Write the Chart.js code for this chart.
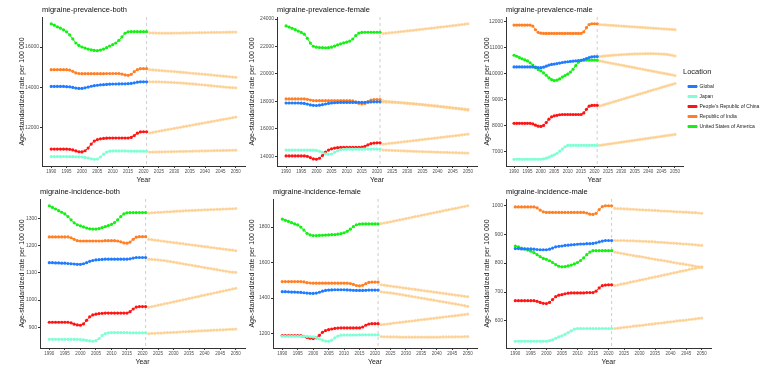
<!DOCTYPE html>
<html>
<head>
<meta charset="utf-8">
<script src="https://cdn.jsdelivr.net/npm/chart.js@4.4.0/dist/chart.umd.min.js"></script>
<style>
  html, body { margin: 0; padding: 0; background: #fff; }
  body { width: 769px; height: 374px; position: relative; overflow: hidden; }
  .panel { position: absolute; }
  .panel canvas { display: block; }
</style>
</head>
<body>
<div class="panel" style="left:0px;top:0px"><canvas id="c1" width="250" height="185"></canvas></div>
<div class="panel" style="left:230px;top:0px"><canvas id="c2" width="250" height="185"></canvas></div>
<div class="panel" style="left:465px;top:0px"><canvas id="c3" width="304" height="185"></canvas></div>
<div class="panel" style="left:0px;top:182px"><canvas id="c4" width="250" height="185"></canvas></div>
<div class="panel" style="left:230px;top:182px"><canvas id="c5" width="250" height="185"></canvas></div>
<div class="panel" style="left:465px;top:182px"><canvas id="c6" width="304" height="185"></canvas></div>
<script>
// years
const histYears = [1990,1991,1992,1993,1994,1995,1996,1997,1998,1999,2000,2001,2002,2003,2004,2005,
  2006,2007,2008,2009,2010,2011,2012,2013,2014,2015,2016,2017,2018,2019,2020,2021];
const projYears = [2022,2023,2024,2025,2026,2027,2028,2029,2030,2031,2032,2033,2034,2035,2036,2037,
  2038,2039,2040,2041,2042,2043,2044,2045,2046,2047,2048,2049,2050];
const xTicks = [1990,1995,2000,2005,2010,2015,2020,2025,2030,2035,2040,2045,2050];
const splitYear = 2021;

const locations = ['Global', 'Japan', "People's Republic of China", 'Republic of India', 'United States of America'];

// ---- migraine-prevalence-both ----
const prevBothGlobal = [14050,14050,14050,14050,14050,14040,14030,14000,13970,13950,13950,13980,14020,14060,14090,14110,
  14130,14140,14150,14160,14170,14170,14175,14180,14180,14185,14200,14230,14260,14280,14280,14280];
const prevBothJapan = [10580,10580,10580,10580,10580,10580,10578,10575,10572,10570,10560,10540,10510,10470,10450,10460,
  10560,10700,10800,10850,10860,10860,10860,10860,10860,10855,10855,10850,10850,10850,10850,10850];
const prevBothChina = [10950,10950,10950,10950,10950,10950,10940,10910,10860,10820,10810,10870,11000,11200,11350,11420,
  11460,11480,11490,11500,11500,11500,11500,11500,11500,11500,11530,11620,11740,11800,11810,11810];
const prevBothIndia = [14880,14880,14880,14880,14880,14880,14860,14800,14720,14690,14680,14680,14680,14680,14680,14680,
  14680,14680,14690,14690,14690,14690,14690,14660,14620,14600,14650,14780,14880,14930,14930,14930];
const prevBothUSA = [17150,17080,17000,16930,16850,16750,16600,16400,16200,16080,16000,15950,15900,15860,15830,15820,
  15850,15900,15970,16050,16120,16200,16330,16500,16680,16750,16760,16760,16760,16760,16760,16760];
const prevBothGlobalProj = [14280,14280,14278,14275,14270,14265,14258,14250,14242,14233,14223,14212,14200,14188,14175,
  14161,14147,14133,14118,14103,14088,14072,14056,14040,14024,14010,14000,13990,13980];
const prevBothJapanProj = [10800,10803,10806,10810,10813,10817,10820,10824,10827,10831,10834,10838,10841,10845,10848,
  10852,10855,10859,10862,10866,10869,10873,10876,10880,10883,10887,10890,10894,10897];
const prevBothChinaProj = [11750,11778,11806,11834,11862,11890,11918,11946,11974,12002,12030,12058,12086,12114,12142,
  12170,12198,12226,12254,12282,12310,12338,12366,12394,12422,12450,12478,12506,12534];
const prevBothIndiaProj = [14880,14868,14856,14844,14832,14820,14808,14796,14784,14772,14758,14744,14730,14716,14702,
  14688,14674,14660,14646,14632,14618,14604,14590,14575,14560,14545,14530,14515,14500];
const prevBothUSAProj = [16700,16695,16690,16688,16686,16685,16685,16686,16688,16690,16692,16695,16698,16700,16703,
  16706,16709,16712,16715,16718,16720,16723,16726,16728,16730,16733,16735,16738,16740];
const prevBothTicks = [12000,14000,16000];

// ---- migraine-prevalence-female ----
const prevFemaleGlobal = [17880,17880,17880,17880,17880,17870,17850,17800,17740,17710,17700,17720,17760,17810,17850,17880,
  17900,17910,17920,17920,17920,17920,17920,17925,17930,17930,17930,17940,17960,17970,17970,17970];
const prevFemaleJapan = [14450,14450,14450,14450,14450,14450,14450,14450,14445,14440,14420,14370,14280,14180,14140,14160,
  14280,14400,14470,14500,14510,14510,14510,14515,14515,14515,14520,14520,14520,14520,14520,14520];
const prevFemaleChina = [14020,14020,14020,14020,14020,14020,14020,13990,13900,13800,13780,13850,14050,14300,14450,14540,
  14590,14620,14640,14650,14650,14650,14650,14650,14650,14660,14720,14830,14920,14960,14980,14980];
const prevFemaleIndia = [18180,18180,18180,18180,18180,18180,18180,18150,18100,18060,18050,18050,18050,18050,18050,18050,
  18050,18050,18050,18050,18050,18050,18030,17960,17860,17820,17850,17980,18100,18130,18130,18130];
const prevFemaleUSA = [23500,23420,23330,23230,23130,23030,22900,22600,22250,22020,21950,21930,21920,21910,21920,21950,
  22030,22120,22200,22260,22320,22400,22550,22800,22980,23030,23040,23040,23040,23040,23040,23040];
const prevFemaleGlobalProj = [17950,17945,17938,17930,17920,17908,17895,17880,17864,17847,17829,17810,17790,17769,17747,
  17724,17700,17675,17650,17624,17597,17570,17542,17514,17485,17456,17426,17396,17366];
const prevFemaleJapanProj = [14450,14440,14430,14420,14411,14402,14393,14384,14375,14366,14358,14350,14342,14334,14326,
  14318,14311,14304,14297,14290,14283,14276,14269,14262,14255,14248,14241,14234,14227];
const prevFemaleChinaProj = [14880,14905,14930,14955,14980,15006,15032,15058,15084,15110,15136,15162,15188,15214,15240,
  15266,15292,15318,15344,15370,15396,15422,15448,15474,15500,15526,15552,15578,15604];
const prevFemaleIndiaProj = [18030,18010,17990,17970,17950,17930,17910,17888,17866,17844,17822,17800,17778,17756,17734,
  17712,17690,17668,17646,17624,17602,17580,17557,17534,17511,17488,17465,17442,17420];
const prevFemaleUSAProj = [22950,22972,22994,23016,23040,23064,23088,23112,23136,23160,23184,23210,23236,23262,23288,
  23314,23340,23366,23392,23418,23444,23470,23496,23522,23548,23574,23600,23630,23660];
const prevFemaleTicks = [14000,16000,18000,20000,22000,24000];

// ---- migraine-prevalence-male ----
const prevMaleGlobal = [10270,10270,10270,10270,10270,10270,10270,10270,10260,10245,10240,10260,10300,10340,10365,10380,
  10400,10420,10440,10455,10470,10480,10490,10505,10515,10525,10550,10590,10630,10660,10670,10670];
const prevMaleJapan = [6720,6720,6720,6720,6720,6720,6720,6720,6720,6720,6720,6730,6760,6800,6850,6890,
  6950,7030,7110,7200,7250,7255,7255,7255,7255,7255,7255,7255,7255,7255,7255,7255];
const prevMaleChina = [8100,8100,8100,8100,8100,8100,8100,8080,8030,7990,7980,8020,8130,8260,8350,8390,
  8410,8430,8440,8440,8440,8440,8440,8440,8440,8440,8500,8640,8760,8790,8795,8795];
const prevMaleIndia = [11880,11880,11880,11880,11880,11880,11880,11840,11700,11600,11570,11560,11560,11560,11560,11560,
  11560,11560,11560,11560,11560,11560,11560,11560,11560,11560,11620,11780,11900,11930,11930,11930];
const prevMaleUSA = [10720,10680,10630,10580,10540,10500,10430,10340,10240,10170,10120,10040,9950,9850,9780,9745,
  9760,9810,9880,9940,9990,10070,10180,10320,10450,10520,10530,10530,10530,10530,10530,10530];
const prevMaleGlobalProj = [10670,10682,10693,10703,10712,10721,10729,10736,10743,10749,10755,10760,10765,10769,10772,
  10775,10777,10779,10780,10780,10779,10777,10774,10768,10760,10750,10735,10715,10690];
const prevMaleJapanProj = [7255,7270,7285,7300,7315,7330,7345,7360,7375,7390,7405,7420,7435,7450,7465,
  7480,7495,7510,7525,7540,7555,7570,7585,7600,7615,7630,7645,7660,7675];
const prevMaleChinaProj = [8770,8800,8830,8861,8892,8923,8954,8985,9016,9047,9078,9109,9140,9171,9202,
  9233,9264,9295,9326,9357,9388,9419,9450,9480,9510,9540,9570,9600,9630];
const prevMaleIndiaProj = [11900,11893,11886,11879,11872,11865,11858,11851,11844,11837,11830,11823,11816,11809,11802,
  11795,11788,11781,11774,11767,11760,11753,11746,11739,11732,11725,11718,11711,11704];
const prevMaleUSAProj = [10500,10480,10460,10440,10420,10400,10380,10360,10340,10320,10300,10280,10260,10240,10220,
  10200,10180,10160,10140,10120,10100,10080,10060,10040,10020,10000,9980,9960,9940];
const prevMaleTicks = [7000,8000,9000,10000,11000,12000];

// ---- migraine-incidence-both ----
const incBothGlobal = [1138,1138,1137,1137,1136,1136,1135,1134,1133,1132,1132,1134,1138,1143,1146,1148,
  1149,1150,1151,1151,1151,1151,1151,1151,1151,1151,1152,1155,1157,1157,1157,1157];
const incBothJapan = [855,855,855,855,855,855,855,855,855,855,854,853,851,849,848,850,
  858,869,876,879,880,880,880,880,880,880,879,879,879,879,879,879];
const incBothChina = [918,918,918,918,918,918,918,916,911,908,907,912,925,938,945,948,
  950,951,952,952,952,952,952,952,952,952,957,967,974,976,976,976];
const incBothIndia = [1233,1233,1233,1233,1233,1233,1233,1230,1224,1219,1218,1218,1218,1218,1218,1218,
  1218,1218,1219,1219,1219,1219,1218,1215,1211,1210,1214,1224,1232,1234,1234,1234];
const incBothUSA = [1348,1342,1336,1330,1324,1318,1308,1296,1285,1278,1274,1270,1266,1263,1262,1262,
  1264,1267,1271,1275,1279,1286,1296,1308,1318,1322,1323,1323,1323,1323,1323,1323];
const incBothGlobalProj = [1151,1150,1149,1148,1147,1146,1144,1142,1140,1138,1136,1134,1132,1130,1128,
  1126,1124,1122,1120,1118,1116,1114,1112,1110,1108,1106,1104,1103,1102];
const incBothJapanProj = [876,877,877,878,878,879,880,880,881,881,882,883,883,884,884,
  885,886,886,887,887,888,889,889,890,890,891,892,892,893];
const incBothChinaProj = [973,976,978,981,983,986,988,991,993,996,998,1001,1003,1006,1008,
  1011,1013,1016,1018,1021,1023,1026,1028,1031,1033,1036,1038,1041,1043];
const incBothIndiaProj = [1224,1223,1221,1220,1218,1217,1215,1214,1212,1211,1209,1208,1206,1205,1203,
  1202,1200,1199,1197,1196,1194,1193,1191,1190,1188,1187,1185,1184,1182];
const incBothUSAProj = [1321,1322,1323,1324,1324,1325,1326,1326,1327,1328,1328,1329,1330,1330,1331,
  1331,1332,1332,1333,1333,1334,1334,1335,1335,1336,1336,1337,1337,1338];
const incBothTicks = [900,1000,1100,1200,1300];

// ---- migraine-incidence-female ----
const incFemaleGlobal = [1436,1436,1435,1434,1434,1433,1432,1430,1428,1427,1426,1428,1433,1439,1443,1445,
  1446,1447,1447,1447,1447,1446,1445,1444,1443,1443,1443,1444,1445,1445,1445,1445];
const incFemaleJapan = [1185,1185,1185,1185,1185,1185,1185,1184,1184,1183,1181,1178,1171,1163,1158,1157,
  1163,1176,1186,1191,1192,1192,1192,1192,1192,1193,1193,1193,1193,1193,1193,1193];
const incFemaleChina = [1189,1189,1189,1189,1189,1189,1188,1184,1178,1174,1172,1176,1190,1207,1217,1222,
  1226,1229,1231,1232,1232,1232,1232,1232,1232,1232,1237,1247,1254,1256,1256,1256];
const incFemaleIndia = [1493,1493,1493,1493,1493,1493,1493,1491,1487,1485,1484,1484,1484,1484,1484,1484,
  1484,1484,1484,1484,1484,1484,1482,1477,1471,1469,1472,1481,1488,1490,1490,1490];
const incFemaleUSA = [1845,1838,1832,1825,1818,1812,1800,1783,1765,1756,1752,1752,1753,1754,1755,1756,
  1757,1758,1760,1763,1768,1776,1788,1802,1813,1817,1818,1818,1818,1818,1818,1818];
const incFemaleGlobalProj = [1435,1433,1431,1429,1427,1424,1421,1418,1415,1412,1409,1406,1403,1400,1397,
  1394,1391,1388,1385,1382,1379,1376,1373,1370,1367,1364,1361,1357,1353];
const incFemaleJapanProj = [1183,1182,1182,1181,1181,1181,1180,1180,1180,1180,1180,1180,1180,1180,1180,
  1180,1180,1180,1180,1180,1181,1181,1181,1181,1182,1182,1182,1183,1183];
const incFemaleChinaProj = [1250,1252,1254,1256,1259,1261,1263,1265,1267,1269,1271,1273,1276,1278,1280,
  1282,1284,1286,1288,1290,1293,1295,1297,1299,1301,1303,1305,1307,1310];
const incFemaleIndiaProj = [1475,1473,1470,1468,1465,1463,1461,1458,1456,1453,1451,1449,1446,1444,1441,
  1439,1437,1434,1432,1429,1427,1425,1422,1420,1417,1415,1413,1410,1408];
const incFemaleUSAProj = [1819,1823,1826,1830,1833,1837,1841,1844,1848,1851,1855,1859,1862,1866,1869,
  1873,1877,1880,1884,1887,1891,1895,1898,1902,1905,1909,1913,1916,1920];
const incFemaleTicks = [1200,1400,1600,1800];

// ---- migraine-incidence-male ----
const incMaleGlobal = [850,850,849,849,849,849,848,847,846,846,846,848,852,856,858,859,
  861,862,863,864,865,866,866,867,867,868,870,873,876,878,878,878];
const incMaleJapan = [530,530,530,530,530,530,530,530,530,530,530,532,535,540,545,549,
  554,560,566,572,574,574,574,574,574,574,574,574,574,574,574,574];
const incMaleChina = [670,670,670,670,670,670,670,668,664,661,660,664,674,684,689,691,
  694,696,697,697,697,697,697,698,698,698,703,714,722,724,725,725];
const incMaleIndia = [994,994,994,994,994,994,994,991,983,977,975,975,975,975,975,975,
  975,975,975,975,975,975,975,973,969,968,972,985,995,998,998,998];
const incMaleUSA = [859,856,852,849,845,841,836,829,822,816,813,808,802,795,789,787,
  788,790,793,797,802,809,818,829,838,843,843,843,843,843,843,843];
const incMaleGlobalProj = [878,878,878,878,877,877,877,876,876,875,875,874,874,873,872,
  872,871,870,869,869,868,867,866,866,865,864,863,862,861];
const incMaleJapanProj = [574,575,576,578,579,580,582,583,584,585,587,588,589,591,592,
  593,594,596,597,598,600,601,602,603,605,606,607,609,610];
const incMaleChinaProj = [722,724,727,729,731,734,736,738,741,743,745,748,750,752,754,
  757,759,761,764,766,768,771,773,775,778,780,782,785,787];
const incMaleIndiaProj = [989,988,988,987,987,986,986,985,984,984,983,983,982,982,981,
  980,980,979,979,978,977,977,976,976,975,974,974,973,972];
const incMaleUSAProj = [838,836,834,832,830,828,826,824,823,821,819,817,815,813,811,
  810,808,806,804,802,800,798,797,795,793,791,789,787,785];
const incMaleTicks = [600,700,800,900,1000];

// ---- styling ----
const locationColors = ['#1f7bff', '#7fffd4', '#ff1414', '#ff7f24', '#14f014'];
const projColor = 'rgba(253, 205, 140, 0.8)';
const axisColor = '#333333';
const tickTextColor = '#4d4d4d';
const yTitle = 'Age-standardized rate per 100 000';

Chart.defaults.font.family = '"Liberation Sans", Arial, sans-serif';
Chart.defaults.animation = false;

// dashed line at 2021 + panel title at the left of the plot area
const panelDecor = {
  id: 'panelDecor',
  beforeDatasetsDraw(chart) {
    const { ctx, chartArea, scales } = chart;
    const x = scales.x.getPixelForValue(splitYear);
    ctx.save();
    ctx.strokeStyle = '#cfcfcf';
    ctx.lineWidth = 1;
    ctx.setLineDash([3, 3]);
    ctx.beginPath();
    ctx.moveTo(x, chartArea.top);
    ctx.lineTo(x, chartArea.bottom);
    ctx.stroke();
    ctx.restore();
  },
  afterDraw(chart, args, opts) {
    const { ctx, chartArea } = chart;
    ctx.save();
    ctx.font = '7.5px "Liberation Sans", Arial, sans-serif';
    ctx.fillStyle = '#111';
    ctx.textBaseline = 'middle';
    ctx.textAlign = 'left';
    ctx.fillText(opts.text, chartArea.left, chartArea.top - 7);
    ctx.restore();
  }
};

function paddedRange(list) {
  const all = [].concat(...list);
  const lo = Math.min(...all), hi = Math.max(...all);
  const pad = (hi - lo) * 0.05;
  return [lo - pad, hi + pad];
}

function toPoints(xs, ys) {
  return ys.map((v, i) => ({ x: xs[i], y: v }));
}

function makePanel(id, p) {
  const datasets = [];
  p.hist.forEach((vals, i) => {
    datasets.push({
      label: locations[i],
      data: toPoints(histYears, vals),
      borderColor: locationColors[i],
      backgroundColor: locationColors[i],
      borderWidth: 1,
      pointRadius: 1.6,
      pointBorderWidth: 0,
      pointHoverRadius: 0,
      tension: 0
    });
  });
  p.proj.forEach((vals, i) => {
    datasets.push({
      label: locations[i] + ' (projection)',
      data: toPoints(projYears, vals),
      borderColor: projColor,
      backgroundColor: projColor,
      borderWidth: 1,
      pointRadius: 1.6,
      pointBorderWidth: 0,
      pointHoverRadius: 0,
      tension: 0
    });
  });

  const [yMin, yMax] = paddedRange(p.hist.concat(p.proj));

  new Chart(document.getElementById(id), {
    type: 'line',
    data: { datasets },
    plugins: [panelDecor],
    options: {
      responsive: false,
      events: [],
      layout: { padding: { left: 0, right: p.padRight, top: 17, bottom: 0 } },
      plugins: {
        tooltip: { enabled: false },
        panelDecor: { text: p.title },
        legend: p.legend ? {
          display: true,
          position: 'right',
          align: 'center',
          maxWidth: 86,
          title: {
            display: true,
            text: 'Location',
            position: 'start',
            color: '#1a1a1a',
            font: { size: 7.5 },
            padding: { top: 0, bottom: 2 }
          },
          labels: {
            filter: item => item.datasetIndex < 5,
            boxWidth: 9,
            boxHeight: 2,
            padding: 5,
            color: '#1a1a1a',
            font: { size: 5 }
          }
        } : { display: false }
      },
      scales: {
        x: {
          type: 'linear',
          min: 1987,
          max: 2053,
          bounds: 'data',
          afterBuildTicks: s => { s.ticks = xTicks.map(v => ({ value: v })); },
          afterFit: s => { s.height = 19; },
          ticks: {
            autoSkip: false,
            maxRotation: 0,
            padding: 1,
            color: tickTextColor,
            font: { size: 4.5 },
            callback: v => String(v)
          },
          grid: { display: true, drawOnChartArea: false, drawTicks: true, tickLength: 2, color: axisColor },
          border: { display: true, color: axisColor, width: 1 },
          title: { display: true, text: 'Year', color: '#1a1a1a', font: { size: 7 }, padding: { top: 0, bottom: 1 } }
        },
        y: {
          type: 'linear',
          min: yMin,
          max: yMax,
          bounds: 'data',
          afterBuildTicks: s => { s.ticks = p.yTicks.map(v => ({ value: v })); },
          afterFit: s => { s.width = p.yWidth; },
          ticks: {
            padding: 1,
            color: tickTextColor,
            font: { size: 5 },
            callback: v => String(v)
          },
          grid: { display: true, drawOnChartArea: false, drawTicks: true, tickLength: 2, color: axisColor },
          border: { display: true, color: axisColor, width: 1 },
          title: { display: true, text: yTitle, color: '#1a1a1a', font: { size: 7 }, padding: { top: 18, bottom: 0 } }
        }
      }
    }
  });
}

makePanel('c1', {
  title: 'migraine-prevalence-both',
  hist: [prevBothGlobal, prevBothJapan, prevBothChina, prevBothIndia, prevBothUSA],
  proj: [prevBothGlobalProj, prevBothJapanProj, prevBothChinaProj, prevBothIndiaProj, prevBothUSAProj],
  yTicks: prevBothTicks, yWidth: 42, padRight: 5
});
makePanel('c2', {
  title: 'migraine-prevalence-female',
  hist: [prevFemaleGlobal, prevFemaleJapan, prevFemaleChina, prevFemaleIndia, prevFemaleUSA],
  proj: [prevFemaleGlobalProj, prevFemaleJapanProj, prevFemaleChinaProj, prevFemaleIndiaProj, prevFemaleUSAProj],
  yTicks: prevFemaleTicks, yWidth: 47, padRight: 3
});
makePanel('c3', {
  title: 'migraine-prevalence-male',
  hist: [prevMaleGlobal, prevMaleJapan, prevMaleChina, prevMaleIndia, prevMaleUSA],
  proj: [prevMaleGlobalProj, prevMaleJapanProj, prevMaleChinaProj, prevMaleIndiaProj, prevMaleUSAProj],
  yTicks: prevMaleTicks, yWidth: 41, padRight: 0, legend: true
});
makePanel('c4', {
  title: 'migraine-incidence-both',
  hist: [incBothGlobal, incBothJapan, incBothChina, incBothIndia, incBothUSA],
  proj: [incBothGlobalProj, incBothJapanProj, incBothChinaProj, incBothIndiaProj, incBothUSAProj],
  yTicks: incBothTicks, yWidth: 40, padRight: 5
});
makePanel('c5', {
  title: 'migraine-incidence-female',
  hist: [incFemaleGlobal, incFemaleJapan, incFemaleChina, incFemaleIndia, incFemaleUSA],
  proj: [incFemaleGlobalProj, incFemaleJapanProj, incFemaleChinaProj, incFemaleIndiaProj, incFemaleUSAProj],
  yTicks: incFemaleTicks, yWidth: 43, padRight: 3
});
makePanel('c6', {
  title: 'migraine-incidence-male',
  hist: [incMaleGlobal, incMaleJapan, incMaleChina, incMaleIndia, incMaleUSA],
  proj: [incMaleGlobalProj, incMaleJapanProj, incMaleChinaProj, incMaleIndiaProj, incMaleUSAProj],
  yTicks: incMaleTicks, yWidth: 41, padRight: 58
});
</script>
</body>
</html>
